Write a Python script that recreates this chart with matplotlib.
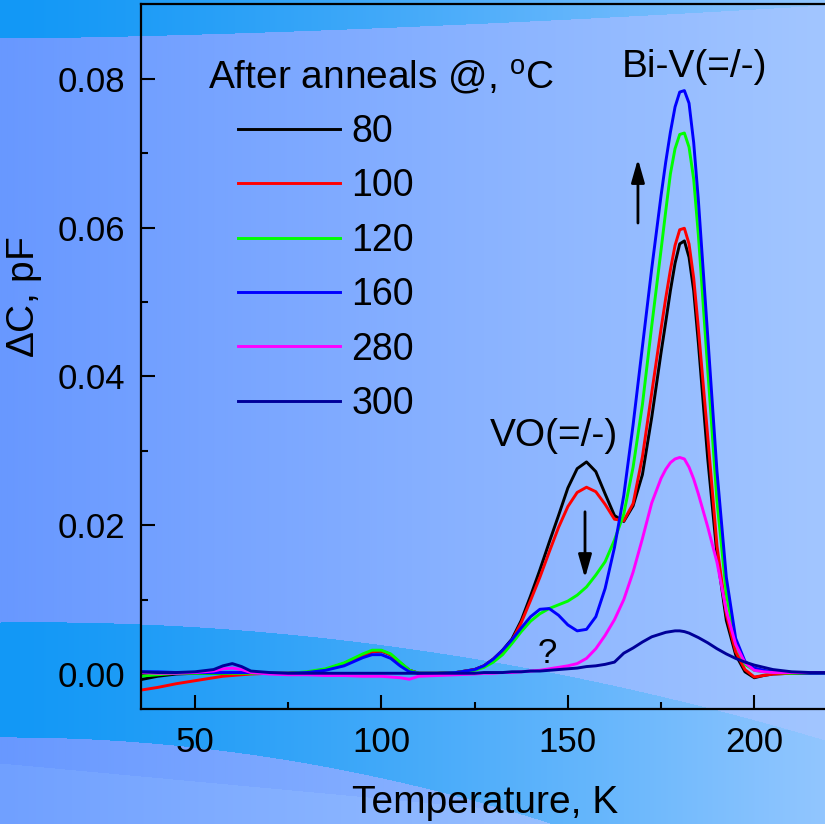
import numpy as np
import matplotlib
matplotlib.use('Agg')
import matplotlib.pyplot as plt

plt.rcParams['font.family'] = ['Liberation Sans', 'DejaVu Sans']
plt.rcParams['mathtext.default'] = 'regular'

# temperature grid (K) and capacitance change (pF) after each anneal
temp = [35, 40, 45, 50, 55, 57.5, 60, 62.5, 65, 70, 75, 80, 85, 90, 95, 97.5, 100, 102.5,
        105, 107.5, 110, 115, 120, 125, 127.5, 130, 132.5, 135, 137.5, 140, 142.5, 145,
        147.5, 150, 152.5, 155, 157.5, 160, 162.5, 165, 167.5, 170, 172.5, 175, 176.25,
        177.5, 178.75, 180, 181.25, 182.5, 183.75, 185, 187.5, 190, 192.5, 195, 197.5,
        200, 202.5, 205, 210, 215, 220]

dc_80 = [-0.0008, -0.0003, 0.0000, 0.0001, 0.0001, 0.0001, 0.0001, 0.0001, 0.0001, 0.0001,
         0.0001, 0.0002, 0.0006, 0.0014, 0.0025, 0.0030, 0.0031, 0.0026, 0.0015, 0.0005,
         0.0001, 0.0001, 0.0002, 0.0006, 0.0011, 0.0020, 0.0032, 0.0047, 0.0072, 0.0105,
         0.0140, 0.0177, 0.0213, 0.0250, 0.0276, 0.0285, 0.0272, 0.0242, 0.0213, 0.0205,
         0.0226, 0.0268, 0.0345, 0.0432, 0.0473, 0.0515, 0.0552, 0.0578, 0.0582, 0.0560,
         0.0515, 0.0445, 0.0290, 0.0160, 0.0072, 0.0026, 0.0003, -0.0005, -0.0002, 0.0000,
         0.0001, 0.0001, 0.0001]

dc_100 = [-0.0022, -0.0018, -0.0013, -0.0009, -0.0005, -0.0003, -0.0002, -0.0001, 0.0000,
          0.0001, 0.0001, 0.0002, 0.0006, 0.0014, 0.0025, 0.0030, 0.0031, 0.0026, 0.0015,
          0.0005, 0.0001, 0.0001, 0.0002, 0.0006, 0.0011, 0.0020, 0.0031, 0.0045, 0.0069,
          0.0099, 0.0130, 0.0164, 0.0197, 0.0225, 0.0244, 0.0251, 0.0245, 0.0228, 0.0208,
          0.0206, 0.0229, 0.0292, 0.0378, 0.0464, 0.0505, 0.0543, 0.0576, 0.0597, 0.0599,
          0.0578, 0.0532, 0.0465, 0.0320, 0.0172, 0.0080, 0.0030, 0.0006, -0.0004, -0.0002,
          0.0000, 0.0001, 0.0001, 0.0001]

dc_120 = [-0.0003, -0.0001, 0.0001, 0.0001, 0.0001, 0.0001, 0.0001, 0.0001, 0.0001, 0.0001,
          0.0001, 0.0003, 0.0007, 0.0015, 0.0027, 0.0032, 0.0032, 0.0027, 0.0016, 0.0005,
          0.0001, 0.0001, 0.0002, 0.0005, 0.0009, 0.0016, 0.0026, 0.0041, 0.0057, 0.0071,
          0.0081, 0.0088, 0.0093, 0.0098, 0.0106, 0.0117, 0.0133, 0.0151, 0.0180, 0.0215,
          0.0278, 0.0362, 0.0468, 0.0570, 0.0622, 0.0672, 0.0706, 0.0725, 0.0727, 0.0708,
          0.0665, 0.0590, 0.0410, 0.0232, 0.0108, 0.0040, 0.0013, 0.0005, 0.0003, 0.0002,
          0.0001, 0.0001, 0.0001]

dc_160 = [0.0003, 0.0003, 0.0002, 0.0002, 0.0002, 0.0002, 0.0002, 0.0002, 0.0002, 0.0001,
          0.0001, 0.0002, 0.0005, 0.0011, 0.0022, 0.0026, 0.0026, 0.0021, 0.0011, 0.0003,
          0.0001, 0.0001, 0.0002, 0.0006, 0.0011, 0.0020, 0.0032, 0.0046, 0.0062, 0.0077,
          0.0087, 0.0088, 0.0079, 0.0066, 0.0058, 0.0060, 0.0077, 0.0115, 0.0170, 0.0240,
          0.0335, 0.0440, 0.0545, 0.0643, 0.0688, 0.0728, 0.0762, 0.0782, 0.0784, 0.0767,
          0.0714, 0.0637, 0.0455, 0.0272, 0.0130, 0.0048, 0.0017, 0.0008, 0.0005, 0.0003,
          0.0002, 0.0001, 0.0001]

dc_280 = [0.0002, 0.0001, 0.0001, 0.0002, 0.0004, 0.0007, 0.0008, 0.0006, 0.0002, 0.0000,
          -0.0001, -0.0001, -0.0002, -0.0002, -0.0003, -0.0003, -0.0003, -0.0004, -0.0005,
          -0.0007, -0.0003, -0.0002, -0.0001, 0.0000, 0.0001, 0.0001, 0.0002, 0.0002, 0.0003,
          0.0004, 0.0005, 0.0007, 0.0009, 0.0011, 0.0014, 0.0021, 0.0034, 0.0052, 0.0073,
          0.0100, 0.0137, 0.0182, 0.0230, 0.0263, 0.0275, 0.0284, 0.0289, 0.0291, 0.0289,
          0.0278, 0.0262, 0.0242, 0.0198, 0.0150, 0.0085, 0.0040, 0.0015, 0.0005, 0.0003,
          0.0002, 0.0002, 0.0002, 0.0002]

dc_300 = [0.0003, 0.0002, 0.0002, 0.0003, 0.0006, 0.0011, 0.0014, 0.0010, 0.0004, 0.0002,
          0.0001, 0.0001, 0.0001, 0.0001, 0.0001, 0.0001, 0.0001, 0.0001, 0.0001, 0.0001,
          0.0001, 0.0001, 0.0001, 0.0001, 0.0002, 0.0002, 0.0002, 0.0003, 0.0003, 0.0004,
          0.0004, 0.0005, 0.0006, 0.0007, 0.0008, 0.0010, 0.0011, 0.0013, 0.0016, 0.0028,
          0.0035, 0.0043, 0.0050, 0.0054, 0.0056, 0.0057, 0.0058, 0.0058, 0.0057, 0.0055,
          0.0052, 0.0049, 0.0042, 0.0034, 0.0027, 0.0021, 0.0016, 0.0012, 0.0009, 0.0006,
          0.0003, 0.0002, 0.0002]

labels = ['80', '100', '120', '160', '280', '300']
colors = ['#000000', '#ff0000', '#00ff00', '#0000ff', '#ff00ff', '#000099']
series = [dc_80, dc_100, dc_120, dc_160, dc_280, dc_300]

fig = plt.figure(figsize=(8.25, 8.24), dpi=100)

# slide-style background: horizontal blue gradient with two bright swooshes
H, W = 824, 825
yy, xx = np.mgrid[0:H, 0:W].astype(float)
t = xx / (W - 1)
base_l = np.array([104, 152, 255.])
base_r = np.array([162, 198, 255.])
band_l = np.array([18, 152, 246.])
band_r = np.array([146, 198, 255.])
img = base_l * (1 - t[..., None]) + base_r * t[..., None]
tb = t ** 1.3
band = band_l * (1 - tb[..., None]) + band_r * tb[..., None]
top_edge = 38 - 33 * t ** 1.5
upper = 622 - 0.0125 * xx + 1.886e-4 * xx ** 2
lower = 737 - 0.0047 * xx + 2.93e-4 * xx ** 2
stripe = 763 + 0.0925 * xx
in_band = (yy < top_edge) | ((yy > upper) & (yy < lower))
img = np.where(((yy > stripe) & ~in_band)[..., None], img + 8, img)
img = np.where(in_band[..., None], band, img)
img = np.clip(img, 0, 255) / 255.

bg = fig.add_axes([0, 0, 1, 1], zorder=-1)
bg.imshow(img, aspect='auto', interpolation='bilinear')
bg.axis('off')

ax = fig.add_axes([140.7 / 825, 115 / 824, 706.8 / 825, 705.5 / 824])
ax.set_facecolor('none')

handles = []
for y, c, lab in zip(series, colors, labels):
    ln, = ax.plot(temp, y, color=c, lw=2.1, label=lab)
    handles.append(ln)

ax.set_xlim(35.44, 225)
ax.set_ylim(-0.0047, 0.0901)
ax.set_xticks([50, 100, 150, 200])
ax.set_xticks([75, 125, 175], minor=True)
ax.set_yticks([0.00, 0.02, 0.04, 0.06, 0.08])
ax.set_yticks([0.01, 0.03, 0.05, 0.07], minor=True)
ax.set_yticklabels(['0.00', '0.02', '0.04', '0.06', '0.08'])
ax.tick_params(which='both', direction='in', width=1.5, labelsize=25)
ax.tick_params(which='major', length=10)
ax.tick_params(which='minor', length=5)
ax.tick_params(axis='y', pad=11)
ax.tick_params(axis='x', pad=12)
for s in ax.spines.values():
    s.set_linewidth(1.6)

ax.set_xlabel('Temperature, K', fontsize=28, labelpad=19, x=0.487)
ax.set_ylabel(r'$\Delta$C, pF', fontsize=28, labelpad=10, y=0.583)

ax.text(53.5, 0.0786, r'After anneals @, $^{o}$C', fontsize=28, va='baseline')
ax.legend(handles=handles, loc='upper left', bbox_to_anchor=(238 / 825, 1 - 114 / 824),
          bbox_transform=fig.transFigure, frameon=False, fontsize=27,
          handlelength=2.72, handletextpad=0.3, labelspacing=0.49,
          borderpad=0, borderaxespad=0)

ax.text(164.4, 0.0802, 'Bi-V(=/-)', fontsize=28, va='baseline')
ax.text(129.1, 0.0307, 'VO(=/-)', fontsize=28, va='baseline')
ax.text(144.4, 0.0015, '?', fontsize=25, va='baseline', ha='center')

arrow = dict(arrowstyle='-|>,head_length=1.4,head_width=0.4', mutation_scale=10,
             lw=2, color='k', shrinkA=0, shrinkB=0)
ax.annotate('', xy=(154.6, 0.0129), xytext=(154.6, 0.0218), arrowprops=arrow)
ax.annotate('', xy=(168.8, 0.0692), xytext=(168.8, 0.0606), arrowprops=arrow)

fig.savefig('out.png', dpi=100)
